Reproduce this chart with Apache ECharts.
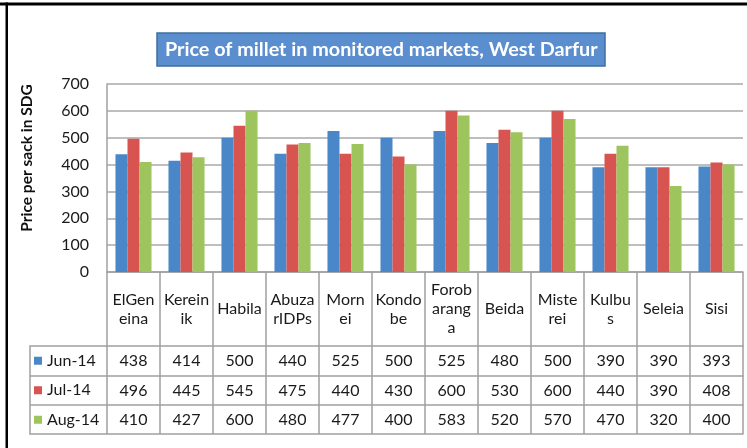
<!DOCTYPE html>
<html><head><meta charset="utf-8">
<script src="https://cdn.jsdelivr.net/npm/echarts@6/dist/echarts.min.js"></script>
<style>html,body{margin:0;padding:0;background:#fff}#c{width:747px;height:448px}</style>
</head><body><div id="c"></div>
<script>
var categories = ['ElGen\neina','Kerein\nik','Habila','Abuza\nrIDPs','Morn\nei','Kondo\nbe','Forob\narang\na','Beida','Miste\nrei','Kulbu\ns','Seleia','Sisi'];
var seriesNames = ['Jun-14','Jul-14','Aug-14'];
var jun14 = [438,414,500,440,525,500,525,480,500,390,390,393];
var jul14 = [496,445,545,475,440,430,600,530,600,440,390,408];
var aug14 = [410,427,600,480,477,400,583,520,570,470,320,400];
var yTicks = {min:0, max:700, interval:100};
var colors = ['#4a87c9','#d75451','#9dc45d'];

var FONT = 'Lato, "Open Sans", sans-serif';
var gridColor = '#a8a8a8';
var tableColor = '#a0a0a0';
var values = [jun14, jul14, aug14];
var rowOffsets = [74, 104, 133];

var xAxes = [{
  type:'category', data:categories, gridIndex:0, position:'bottom',
  boundaryGap:true,
  axisLine:{show:true, lineStyle:{color:tableColor, width:1.5}},
  axisTick:{show:true, length:162, lineStyle:{color:tableColor, width:1.5}},
  axisLabel:{interval:0, margin:37, verticalAlign:'middle', fontFamily:FONT, fontSize:16, lineHeight:19, color:'#1a1a1a'}
}];
values.forEach(function(v, i){
  xAxes.push({
    type:'category', data:v.map(String), gridIndex:0, position:'bottom', offset:rowOffsets[i],
    axisLine:{show:true, lineStyle:{color:tableColor, width:1.5}},
    axisTick:{show:false},
    axisLabel:{interval:0, margin:15, verticalAlign:'middle', fontFamily:FONT, fontSize:16, color:'#1a1a1a'}
  });
});
xAxes.push({
  type:'category', data:categories, gridIndex:0, position:'bottom', offset:162,
  axisLine:{show:true, lineStyle:{color:tableColor, width:1.5}},
  axisTick:{show:false}, axisLabel:{show:false}
});

var chart = echarts.init(document.getElementById('c'), null, {renderer:'canvas'});
chart.setOption({
  animation:false,
  backgroundColor:'#fff',
  title:{
    text:'Price of millet in monitored markets, West Darfur',
    left:157, top:33,
    padding:[7, 8, 6, 8],
    backgroundColor:'#5b8ecf',
    borderColor:'#3f6d9e', borderWidth:1.5,
    textStyle:{color:'#fff', fontFamily:FONT, fontSize:19.8, fontWeight:'bold'}
  },
  legend:{
    orient:'vertical', left:34, top:346, padding:0, itemGap:0,
    itemWidth:8, itemHeight:8, icon:'rect',
    data:seriesNames,
    textStyle:{fontFamily:FONT, fontSize:16, color:'#1a1a1a', lineHeight:29.5}
  },
  grid:{left:107, right:4, top:84, bottom:176, containLabel:false},
  xAxis:xAxes,
  yAxis:{
    type:'value', min:yTicks.min, max:yTicks.max, interval:yTicks.interval,
    name:'Price per sack in SDG', nameLocation:'middle', nameGap:72,
    nameTextStyle:{fontFamily:FONT, fontSize:15.5, fontWeight:'bold', color:'#111', padding:[0,0,0,40]},
    axisLine:{show:true, lineStyle:{color:tableColor, width:1.5}},
    axisTick:{show:false},
    splitLine:{lineStyle:{color:gridColor, width:1.5}},
    axisLabel:{margin:18, fontFamily:FONT, fontSize:16, color:'#1a1a1a'}
  },
  series: values.map(function(v, i){
    return {name:seriesNames[i], type:'bar', data:v, xAxisIndex:0,
      barGap:'0%', barCategoryGap:'32%', itemStyle:{color:colors[i]}};
  }),
  color:colors,
  graphic:[
    {type:'rect', shape:{x:0, y:2.5, width:747, height:3}, style:{fill:'#000'}, z:100},
    {type:'rect', shape:{x:5.5, y:2.5, width:2.5, height:446}, style:{fill:'#000'}, z:100},
    {type:'polyline', shape:{points:[[107,346],[30,346],[30,434],[107,434]]}, style:{stroke:tableColor, lineWidth:1.5, fill:null}},
    {type:'line', shape:{x1:30, y1:376, x2:107, y2:376}, style:{stroke:tableColor, lineWidth:1.5}},
    {type:'line', shape:{x1:30, y1:405, x2:107, y2:405}, style:{stroke:tableColor, lineWidth:1.5}}
  ]
});
</script></body></html>
